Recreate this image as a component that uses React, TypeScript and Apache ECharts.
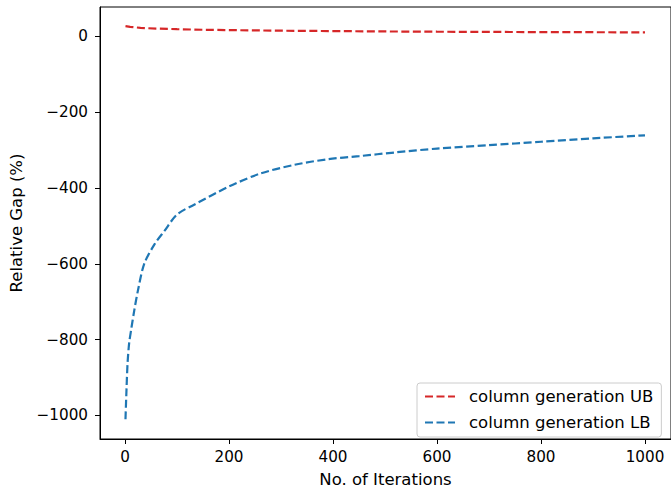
import React, { useEffect, useRef } from "react";
import * as echarts from "echarts";

const ubX = [1, 10, 30, 60, 100, 150, 200, 300, 400, 500, 600, 700, 800, 900, 1000];
const ubY = [27, 25, 22.5, 20.5, 19, 17.5, 16.5, 15, 14, 13, 12.3, 11.8, 11.3, 11, 10.5];

const lbX = [1, 3, 5, 8, 12, 18, 25, 37, 57, 76, 100, 133, 200, 260, 325, 390, 450, 520, 600, 700, 800, 900, 1000];
const lbY = [-1010, -930, -862, -810, -773, -722, -670, -600, -548, -513, -470, -444, -396, -362, -339, -324, -316, -306, -296, -287, -278, -269, -261];

const xTicks = [0, 200, 400, 600, 800, 1000];
const yTicks = [0, -200, -400, -600, -800, -1000];

const seriesNames = ["column generation UB", "column generation LB"];
const colors = ["#d62728", "#1f77b4"];

const FONT = "DejaVu Sans";
const fmt = (v: number) => String(v).replace("-", "\u2212");

export default function App() {
  const ref = useRef<HTMLDivElement>(null);
  useEffect(() => {
    document.body.style.margin = "0";
    const chart = echarts.init(ref.current!, null, { renderer: "svg" });
    const mk = (xs: number[], ys: number[]) => xs.map((x, i) => [x, ys[i]]);
    const dash = [8, 3.5];
    chart.setOption({
      animation: false,
      backgroundColor: "#fff",
      grid: {
        left: 100,
        top: 7,
        width: 573,
        height: 437,
        show: true,
        borderColor: "#000",
        borderWidth: 1,
        backgroundColor: "transparent",
      },
      xAxis: {
        type: "value",
        min: -48,
        max: 1050,
        splitLine: { show: false },
        axisLine: { show: true, onZero: false, lineStyle: { color: "#000", width: 1 } },
        axisTick: { show: true, length: 5, customValues: xTicks, lineStyle: { color: "#000", width: 1 } },
        axisLabel: {
          customValues: xTicks,
          formatter: fmt,
          margin: 10,
          fontFamily: FONT,
          fontSize: 15.2,
          color: "#000",
        },
        name: "No. of Iterations",
        nameLocation: "middle",
        nameGap: 32,
        nameTextStyle: { fontFamily: FONT, fontSize: 16.5, color: "#000" },
      },
      yAxis: {
        type: "value",
        min: -1062,
        max: 77.5,
        splitLine: { show: false },
        axisLine: { show: true, onZero: false, lineStyle: { color: "#000", width: 1 } },
        axisTick: { show: true, length: 5, customValues: yTicks, lineStyle: { color: "#000", width: 1 } },
        axisLabel: {
          customValues: yTicks,
          formatter: fmt,
          margin: 12,
          fontFamily: FONT,
          fontSize: 15.2,
          color: "#000",
        },
        name: "Relative Gap (%)",
        nameLocation: "middle",
        nameGap: 75,
        nameTextStyle: { fontFamily: FONT, fontSize: 16.5, color: "#000" },
      },
      legend: {
        show: true,
        orient: "vertical",
        left: 417,
        top: 383,
        padding: [5, 8, 6, 7],
        itemWidth: 30,
        itemHeight: 16,
        itemGap: 9,
        backgroundColor: "rgba(255,255,255,0.8)",
        borderColor: "#cccccc",
        borderWidth: 1,
        borderRadius: 3,
        itemStyle: { opacity: 0 },
        textStyle: { fontFamily: FONT, fontSize: 16.5, color: "#000", padding: [0, 0, 0, 9] },
        data: seriesNames,
      },
      series: [
        {
          name: seriesNames[0],
          type: "line",
          data: mk(ubX, ubY),
          symbol: "none",
          smooth: false,
          lineStyle: { color: colors[0], width: 2.2, type: dash },
          itemStyle: { color: colors[0] },
        },
        {
          name: seriesNames[1],
          type: "line",
          data: mk(lbX, lbY),
          symbol: "none",
          smooth: 0.3,
          lineStyle: { color: colors[1], width: 2.2, type: dash },
          itemStyle: { color: colors[1] },
        },
      ],
    });
    return () => chart.dispose();
  }, []);
  return <div ref={ref} style={{ width: 671, height: 493 }} />;
}
